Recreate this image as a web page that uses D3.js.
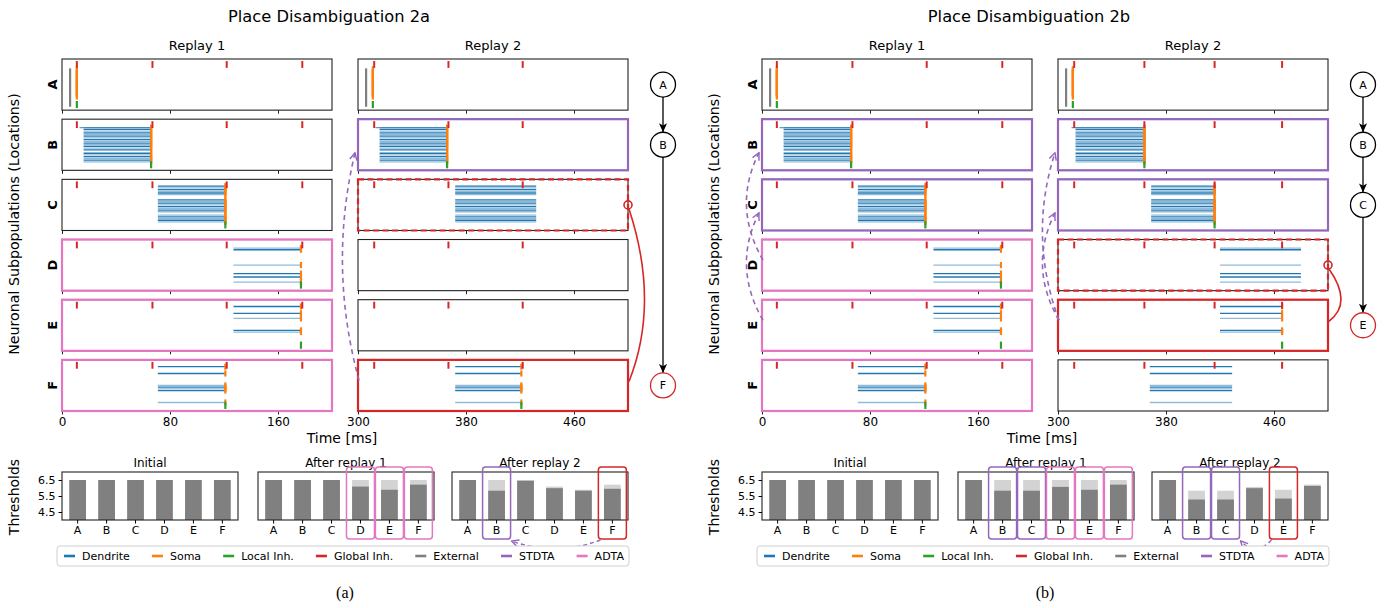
<!DOCTYPE html>
<html>
<head>
<meta charset="utf-8">
<script src="https://cdn.jsdelivr.net/npm/d3@7"></script>
<style>
  body { margin: 0; background: #fff; }
  svg { display: block; }
  text { font-family: "DejaVu Sans", sans-serif; fill: #000; }
</style>
</head>
<body>
<svg id="chart" width="1393" height="608"></svg>
<script>
// ---------- data ----------
const locations = ["A", "B", "C", "D", "E", "F"];
const timeTicks1 = [0, 80, 160];
const timeTicks2 = [300, 380, 460];
const thrTicks = [4.5, 5.5, 6.5];

// neuron slots (0 = top, 30 = bottom of a panel) that carry dendrite lines / soma ticks
const neuronsA = [6, 7, 8, 9, 10, 11, 12, 13, 14, 15, 16, 17, 18, 19, 20, 21, 22];
const neuronsB = [5, 6, 7, 8, 9, 10, 11, 12, 13, 14, 15, 16, 17, 18, 20, 21, 22, 23, 24, 25];
const neuronsC = [4, 5, 6, 7, 8, 9, 12, 13, 14, 15, 16, 17, 18, 19, 21, 22, 23, 24, 25];
const neuronsD = [5, 6, 15, 20, 22, 25];
const neuronsE = [4, 8, 11, 18, 19];
const neuronsF = [4, 8, 15, 16, 17, 18, 25];

// replay 1 is the same in 2a and 2b: [location, dendrite start ms, dendrite end ms]
const dendR1 = [["B", 16, 66], ["C", 71, 121], ["D", 127, 177], ["E", 127, 177], ["F", 71, 121]];
const leadR1 = [["B", 13, 66]];
const somaR1 = [["A", 11], ["B", 66], ["C", 121], ["D", 177], ["E", 177], ["F", 121]];
const localR1 = [["A", 11], ["B", 66], ["C", 121], ["D", 177], ["E", 177], ["F", 121]];
const globalR1 = [11, 67, 122, 178];
const extR1 = [["A", 6]];

// 2a replay 2
const dend2aR2 = [["B", 316, 366], ["C", 372, 432], ["F", 372, 421]];
const lead2aR2 = [["B", 313, 366]];
const soma2aR2 = [["A", 311], ["B", 366], ["F", 421]];
const local2aR2 = [["A", 311], ["B", 366], ["F", 421]];
const global2aR2 = [312, 367, 422];
const ext2aR2 = [["A", 306]];

// 2b replay 2
const dend2bR2 = [["B", 313, 363], ["C", 369, 416], ["D", 420, 480], ["E", 420, 466], ["F", 368, 429]];
const lead2bR2 = [["B", 310, 363]];
const soma2bR2 = [["A", 311], ["B", 364], ["C", 416], ["E", 466]];
const local2bR2 = [["A", 311], ["B", 364], ["C", 416], ["E", 466]];
const global2bR2 = [312, 364, 416, 466];
const ext2bR2 = [["A", 306]];

// panel highlight roles
const mark2aR1 = [["D", "ADTA"], ["E", "ADTA"], ["F", "ADTA"]];
const mark2aR2 = [["B", "STDTA"], ["C", "pending"], ["F", "target"]];
const mark2bR1 = [["B", "STDTA"], ["C", "STDTA"], ["D", "ADTA"], ["E", "ADTA"], ["F", "ADTA"]];
const mark2bR2 = [["B", "STDTA"], ["C", "STDTA"], ["D", "pending"], ["E", "target"]];

// thresholds
const thrInitial = [6.5, 6.5, 6.5, 6.5, 6.5, 6.5];
const thr2aAfter1 = [6.5, 6.5, 6.5, 6.09, 5.89, 6.21];
const thr2aAfter2 = [6.5, 5.83, 6.45, 5.99, 5.83, 5.95];
const thr2bAfter1 = [6.5, 5.83, 5.83, 6.07, 5.89, 6.21];
const thr2bAfter2 = [6.5, 5.28, 5.28, 5.99, 5.34, 6.13];
const box2aAfter1 = [["D", "ADTA"], ["E", "ADTA"], ["F", "ADTA"]];
const box2aAfter2 = [["B", "STDTA"], ["F", "target"]];
const box2bAfter1 = [["B", "STDTA"], ["C", "STDTA"], ["D", "ADTA"], ["E", "ADTA"], ["F", "ADTA"]];
const box2bAfter2 = [["B", "STDTA"], ["C", "STDTA"], ["E", "target"]];

// sequence graphs
const nodes2a = ["A", "B", "F"];
const nodes2b = ["A", "B", "C", "E"];

const legendLabels = ["Dendrite", "Soma", "Local Inh.", "Global Inh.", "External", "STDTA", "ADTA"];

// ---------- styles ----------
const col = {
  blue: "#1f77b4", orange: "#ff7f0e", green: "#2ca02c", red: "#d62728",
  gray: "#7f7f7f", purple: "#9467bd", pink: "#e377c2"
};
const roleColor = { STDTA: col.purple, ADTA: col.pink, target: col.red, pending: col.red };
const legendColors = [col.blue, col.orange, col.green, col.red, col.gray, col.purple, col.pink];
const neuronsOf = { A: neuronsA, B: neuronsB, C: neuronsC, D: neuronsD, E: neuronsE, F: neuronsF };

const svg = d3.select("#chart");
const defs = svg.append("defs");
defs.append("marker").attr("id", "headBlack").attr("viewBox", "0 0 10 10")
  .attr("refX", 10).attr("refY", 5).attr("markerWidth", 9).attr("markerHeight", 9)
  .attr("markerUnits", "userSpaceOnUse").attr("orient", "auto")
  .append("path").attr("d", "M0,0.5 L10,5 L0,9.5 L2.5,5 Z").attr("fill", "#000");
defs.append("marker").attr("id", "headPurple").attr("viewBox", "0 0 10 10")
  .attr("refX", 9).attr("refY", 5).attr("markerWidth", 9).attr("markerHeight", 9)
  .attr("markerUnits", "userSpaceOnUse").attr("orient", "auto")
  .append("path").attr("d", "M1,1 L9,5 L1,9").attr("fill", "none")
  .attr("stroke", col.purple).attr("stroke-width", 1.6);

const rowBand = d3.scaleBand().domain(locations).range([59, 411]).paddingInner(0.15);
const ph = rowBand.bandwidth();
const slotY = d3.scaleLinear().domain([0, 30]).range([0, ph]);
const rowMid = loc => rowBand(loc) + ph / 2;
const colW = 270;

function drawReplay(g, x0, dom, ticks, r) {
  const x = d3.scaleLinear().domain(dom).range([x0, x0 + colW]);
  locations.forEach((loc, i) => {
    const top = rowBand(loc);
    const p = g.append("g").attr("transform", `translate(0,${top})`);

    // dendrites
    r.dend.filter(d => d[0] === loc).forEach(d => {
      p.selectAll(null).data(neuronsOf[loc]).enter().append("line")
        .attr("x1", x(d[1])).attr("x2", x(d[2]))
        .attr("y1", n => slotY(n)).attr("y2", n => slotY(n))
        .attr("stroke", col.blue).attr("stroke-width", 1.3)
        .attr("stroke-opacity", n => n % 2 === 0 ? 1 : 0.5);
    });
    r.lead.filter(d => d[0] === loc).forEach(d => {
      p.append("line").attr("x1", x(d[1])).attr("x2", x(d[2]))
        .attr("y1", slotY(neuronsOf[loc][0])).attr("y2", slotY(neuronsOf[loc][0]))
        .attr("stroke", col.blue).attr("stroke-width", 1.3).attr("stroke-opacity", 0.7);
    });
    // external input
    r.ext.filter(d => d[0] === loc).forEach(d => {
      p.append("line").attr("x1", x(d[1])).attr("x2", x(d[1]))
        .attr("y1", slotY(5.5)).attr("y2", slotY(28))
        .attr("stroke", col.gray).attr("stroke-width", 2.2);
    });
    // soma spikes
    r.soma.filter(d => d[0] === loc).forEach(d => {
      p.selectAll(null).data(neuronsOf[loc]).enter().append("line")
        .attr("x1", x(d[1])).attr("x2", x(d[1]))
        .attr("y1", n => slotY(n - 1.8)).attr("y2", n => slotY(n + 1.8))
        .attr("stroke", col.orange).attr("stroke-width", 2.2);
    });
    // local inhibition
    r.local.filter(d => d[0] === loc).forEach(d => {
      p.append("line").attr("x1", x(d[1])).attr("x2", x(d[1]))
        .attr("y1", slotY(24.6)).attr("y2", slotY(28.8))
        .attr("stroke", col.green).attr("stroke-width", 2.2);
    });
    // global inhibition
    p.selectAll(null).data(r.glob).enter().append("line")
      .attr("x1", t => x(t)).attr("x2", t => x(t))
      .attr("y1", slotY(1.2)).attr("y2", slotY(5.2))
      .attr("stroke", col.red).attr("stroke-width", 2);

    // frame + ticks
    p.append("rect").attr("x", x0).attr("y", 0).attr("width", colW).attr("height", ph)
      .attr("fill", "none").attr("stroke", "#222").attr("stroke-width", 1.1);
    const ax = p.append("g").attr("transform", `translate(0,${ph})`)
      .call(d3.axisBottom(x).tickValues(ticks).tickSize(3.5).tickPadding(3)
        .tickFormat(i === locations.length - 1 ? d3.format("d") : () => ""));
    ax.select(".domain").remove();
    ax.selectAll("line").attr("stroke", "#222");
    ax.selectAll("text").attr("font-size", 12).attr("font-family", '"DejaVu Sans", sans-serif').attr("fill", "#000");

    // highlight
    r.mark.filter(d => d[0] === loc).forEach(d => {
      p.append("rect").attr("x", x0).attr("y", 0).attr("width", colW).attr("height", ph)
        .attr("fill", "none").attr("stroke", roleColor[d[1]]).attr("stroke-width", 2.2)
        .attr("stroke-dasharray", d[1] === "pending" ? "6,3.5" : null);
    });
  });
  return x;
}

function drawThresholds(g, x0, title, cur, prev, boxes, showY) {
  const x = d3.scaleBand().domain(locations).range([x0, x0 + 176]).paddingInner(0.42).paddingOuter(0.25);
  const y = d3.scaleLinear().domain([4, 7]).range([520, 472]);
  if (prev) {
    g.selectAll(null).data(prev).enter().append("rect")
      .attr("x", (v, i) => x(locations[i])).attr("width", x.bandwidth())
      .attr("y", v => y(v)).attr("height", v => y(4) - y(v)).attr("fill", "#d3d3d3");
  }
  g.selectAll(null).data(cur).enter().append("rect")
    .attr("x", (v, i) => x(locations[i])).attr("width", x.bandwidth())
    .attr("y", v => y(v)).attr("height", v => y(4) - y(v)).attr("fill", "#808080");
  g.append("rect").attr("x", x0).attr("y", 472).attr("width", 176).attr("height", 48)
    .attr("fill", "none").attr("stroke", "#222").attr("stroke-width", 1.1);
  const ax = g.append("g").attr("transform", "translate(0,520)")
    .call(d3.axisBottom(x).tickSize(3.5).tickPadding(2.5));
  ax.select(".domain").remove();
  ax.selectAll("text").attr("font-size", 11).attr("font-family", '"DejaVu Sans", sans-serif').attr("fill", "#000");
  if (showY) {
    const ay = g.append("g").attr("transform", `translate(${x0},0)`)
      .call(d3.axisLeft(y).tickValues(thrTicks).tickSize(3.5).tickPadding(3).tickFormat(d3.format(".1f")));
    ay.select(".domain").remove();
    ay.selectAll("text").attr("font-size", 11).attr("font-family", '"DejaVu Sans", sans-serif').attr("fill", "#000");
  }
  g.append("text").attr("x", x0 + 88).attr("y", 466.5).attr("text-anchor", "middle")
    .attr("font-size", 12).text(title);
  boxes.forEach(b => {
    const cx = x(b[0]) + x.bandwidth() / 2;
    g.append("rect").attr("x", cx - 14).attr("y", 467).attr("width", 28).attr("height", 72)
      .attr("rx", 3).attr("fill", "none").attr("stroke", roleColor[b[1]]).attr("stroke-width", 1.5);
  });
  return x;
}

function drawFigure(f) {
  const g = svg.append("g").attr("transform", `translate(${f.ox},0)`);
  const c1 = 62, c2 = 358;

  g.append("text").attr("x", 329).attr("y", 21.5).attr("text-anchor", "middle")
    .attr("font-size", 16.3).text(f.title);
  g.append("text").attr("x", c1 + colW / 2).attr("y", 49.5).attr("text-anchor", "middle")
    .attr("font-size", 13).text("Replay 1");
  g.append("text").attr("x", c2 + colW / 2).attr("y", 49.5).attr("text-anchor", "middle")
    .attr("font-size", 13).text("Replay 2");
  g.append("text").attr("transform", "translate(19,224) rotate(-90)").attr("text-anchor", "middle")
    .attr("font-size", 14.2).text("Neuronal Subpopulations (Locations)");
  g.append("text").attr("x", 342).attr("y", 443).attr("text-anchor", "middle")
    .attr("font-size", 14).text("Time [ms]");
  locations.forEach(loc => {
    g.append("text").attr("transform", `translate(56.5,${rowMid(loc)}) rotate(-90)`)
      .attr("text-anchor", "middle").attr("font-size", 13).attr("font-weight", "bold").text(loc);
  });

  drawReplay(g, c1, [0, 200], timeTicks1, f.r1);
  drawReplay(g, c2, [300, 500], timeTicks2, f.r2);

  // red feedback arc from the pending panel to the target panel
  const pend = f.r2.mark.find(d => d[1] === "pending")[0];
  const targ = f.r2.mark.find(d => d[1] === "target")[0];
  const ex = c2 + colW + 1;
  g.append("path")
    .attr("d", `M${ex},${rowMid(pend) + 4} Q${ex + f.arcBulge},${(rowMid(pend) + rowMid(targ)) / 2 + 8} ${ex},${rowMid(targ) - 4}`)
    .attr("fill", "none").attr("stroke", col.red).attr("stroke-width", 1.6);
  g.append("circle").attr("cx", ex - 1).attr("cy", rowMid(pend)).attr("r", 4)
    .attr("fill", "none").attr("stroke", col.red).attr("stroke-width", 1.6);

  // STDTA dashed arrows between panels
  f.arcs.forEach(a => {
    const cx = a[0] === 1 ? c1 : c2;
    const y1 = rowMid(a[1]) - 5, y2 = rowMid(a[2]) + 8;
    g.append("path")
      .attr("d", `M${cx + 1},${y1} Q${cx - 30},${(y1 + y2) / 2} ${cx - 3},${y2}`)
      .attr("fill", "none").attr("stroke", col.purple).attr("stroke-width", 1.6)
      .attr("stroke-dasharray", "5,4").attr("marker-end", "url(#headPurple)");
  });

  // sequence graph
  const gx = 663;
  f.nodes.forEach((n, i) => {
    if (i > 0) {
      g.append("line").attr("x1", gx).attr("x2", gx)
        .attr("y1", rowMid(f.nodes[i - 1]) + 12).attr("y2", rowMid(n) - 12.5)
        .attr("stroke", "#000").attr("stroke-width", 1.3).attr("marker-end", "url(#headBlack)");
    }
  });
  f.nodes.forEach((n, i) => {
    const last = i === f.nodes.length - 1;
    g.append("circle").attr("cx", gx).attr("cy", rowMid(n)).attr("r", 12.5)
      .attr("fill", "#fff").attr("stroke", last ? col.red : "#000").attr("stroke-width", 1.3);
    g.append("text").attr("x", gx).attr("y", rowMid(n) + 4).attr("text-anchor", "middle")
      .attr("font-size", 11).text(n);
  });

  // thresholds
  g.append("text").attr("transform", "translate(19,497) rotate(-90)").attr("text-anchor", "middle")
    .attr("font-size", 14).text("Thresholds");
  drawThresholds(g, 62, "Initial", thrInitial, null, [], true);
  drawThresholds(g, 258, "After replay 1", f.after1, thrInitial, f.box1, false);
  const xb = drawThresholds(g, 452, "After replay 2", f.after2, f.after1, f.box2, false);
  const tgt = f.box2.find(b => b[1] === "target")[0];
  const dst = f.box2.filter(b => b[1] === "STDTA").slice(-1)[0][0];
  const sx = xb(tgt) + xb.bandwidth() / 2 - 12, dx = xb(dst) + xb.bandwidth() / 2 + 15;
  g.append("path").attr("d", `M${sx},540 Q${(sx + dx) / 2},557 ${dx},541`)
    .attr("fill", "none").attr("stroke", col.purple).attr("stroke-width", 1.4)
    .attr("stroke-dasharray", "4,3").attr("marker-end", "url(#headPurple)");

  // legend
  const lg = g.append("g");
  lg.append("rect").attr("x", 57).attr("y", 546).attr("width", 572).attr("height", 20).attr("rx", 3)
    .attr("fill", "#fff").attr("stroke", "#d0d0d0").attr("stroke-width", 1);
  const items = legendLabels.map((l, i) => {
    const t = lg.append("text").attr("y", 560).attr("font-size", 11).text(l);
    return { t, w: t.node().getComputedTextLength(), c: legendColors[i] };
  });
  const handle = 11, pad = 7;
  const used = d3.sum(items, it => handle + pad + it.w);
  const gap = (560 - used) / (items.length - 1);
  let cx = 64;
  items.forEach(it => {
    lg.append("line").attr("x1", cx).attr("x2", cx + handle).attr("y1", 556).attr("y2", 556)
      .attr("stroke", it.c).attr("stroke-width", 2.6);
    it.t.attr("x", cx + handle + pad);
    cx += handle + pad + it.w + gap;
  });

  g.append("text").attr("x", 345).attr("y", 598).attr("text-anchor", "middle")
    .attr("font-family", '"Liberation Serif", serif').style("font-family", '"Liberation Serif", serif')
    .attr("font-size", 16).text(f.caption);
}

drawFigure({
  ox: 0, title: "Place Disambiguation 2a", caption: "(a)", arcBulge: 31,
  r1: { dend: dendR1, lead: leadR1, soma: somaR1, local: localR1, glob: globalR1, ext: extR1, mark: mark2aR1 },
  r2: { dend: dend2aR2, lead: lead2aR2, soma: soma2aR2, local: local2aR2, glob: global2aR2, ext: ext2aR2, mark: mark2aR2 },
  arcs: [[2, "F", "B"]],
  nodes: nodes2a,
  after1: thr2aAfter1, after2: thr2aAfter2, box1: box2aAfter1, box2: box2aAfter2
});
drawFigure({
  ox: 700, title: "Place Disambiguation 2b", caption: "(b)", arcBulge: 24,
  r1: { dend: dendR1, lead: leadR1, soma: somaR1, local: localR1, glob: globalR1, ext: extR1, mark: mark2bR1 },
  r2: { dend: dend2bR2, lead: lead2bR2, soma: soma2bR2, local: local2bR2, glob: global2bR2, ext: ext2bR2, mark: mark2bR2 },
  arcs: [[1, "E", "C"], [1, "D", "B"], [2, "E", "B"], [2, "E", "C"]],
  nodes: nodes2b,
  after1: thr2bAfter1, after2: thr2bAfter2, box1: box2bAfter1, box2: box2bAfter2
});
</script>
</body>
</html>
